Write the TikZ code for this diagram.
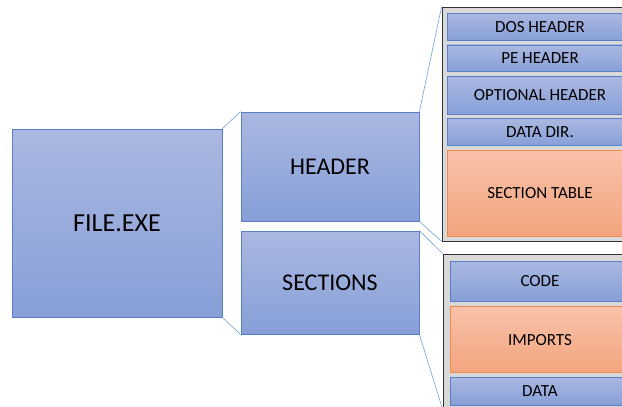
\documentclass[tikz,border=0pt]{standalone}
\usepackage{fontspec}
\setmainfont{Carlito}
\definecolor{blutop}{HTML}{AAB8E1}
\definecolor{blubot}{HTML}{879FD7}
\definecolor{bluline}{HTML}{5A7FC9}
\definecolor{orgtop}{HTML}{F8C2A9}
\definecolor{orgbot}{HTML}{F4A47F}
\definecolor{orgline}{HTML}{EE8A4E}
\definecolor{linkcol}{HTML}{6FA2DC}
\begin{document}
\begin{tikzpicture}[x=1pt, y=-1pt,
    blk/.style={draw=bluline, line width=.8pt, top color=blutop, bottom color=blubot, inner sep=0pt},
    hot/.style={draw=orgline, line width=.8pt, top color=orgtop, bottom color=orgbot, inner sep=0pt},
    panel/.style={draw=black!80, line width=.8pt, fill=black!15, inner sep=0pt},
    link/.style={draw=linkcol, line width=.6pt},
    big/.style={font=\fontsize{24}{28}\selectfont},
    small/.style={font=\fontsize{17}{20}\selectfont}]

    \useasboundingbox (0,0) rectangle (622,407);
    \clip (0,0) rectangle (622,407);

    % left column
    \node[blk, minimum width=210, minimum height=188, font=\fontsize{26}{30}\selectfont] (file) at (117,223) {FILE.EXE};
    \node[blk, big, minimum width=178, minimum height=109] (hdr) at (330,166.5) {HEADER};
    \node[blk, big, minimum width=178, minimum height=103] (sec) at (330,282.5) {SECTIONS};

    % panels
    \node[panel, minimum width=208, minimum height=234] (hpan) at (546,124) {};
    \node[panel, minimum width=207, minimum height=155] (span) at (546.5,331.5) {};

    % header parts
    \begin{scope}[every node/.style={small, minimum width=186}]
        \node[blk, minimum height=26.7] (dos) at (540,26.7) {DOS HEADER};
        \node[blk, minimum height=26.7] (pe) at (540,58.3) {PE HEADER};
        \node[blk, minimum height=37.6] (opt) at (540,95.5) {OPTIONAL HEADER};
        \node[blk, minimum height=27.4] (ddir) at (540,132) {DATA DIR.};
        \node[hot, minimum height=86] (stab) at (540,193) {SECTION TABLE};
    \end{scope}

    % section parts
    \begin{scope}[every node/.style={small, minimum width=180}]
        \node[blk, minimum height=39.3] (code) at (540,281.3) {CODE};
        \node[hot, minimum height=66] (imp) at (540,339.7) {IMPORTS};
        \node[blk, minimum height=27.3] (data) at (540,391.3) {DATA};
    \end{scope}

    % zoom lines
    \draw[link] (file.north east) -- (hdr.north west);
    \draw[link] (file.south east) -- (sec.south west);
    \draw[link] (hdr.north east) -- (hpan.north west);
    \draw[link] (hdr.south east) -- (hpan.south west);
    \draw[link] (sec.north east) -- (span.north west);
    \draw[link] (sec.south east) -- (span.south west);
\end{tikzpicture}
\end{document}
